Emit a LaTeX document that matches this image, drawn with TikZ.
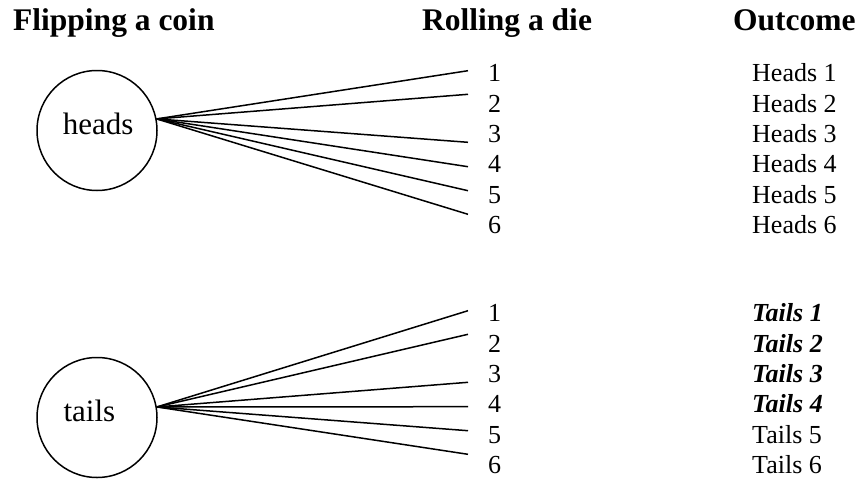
\documentclass[tikz,border=0pt]{standalone}
\usepackage{fontspec}
\setmainfont{Liberation Serif}
\begin{document}
\begin{tikzpicture}[x=1pt,y=-1pt,
  txt/.style={inner sep=0pt, anchor=base west, font=\fontsize{26}{30}\selectfont},
  bitxt/.style={txt, font=\fontsize{26}{30}\selectfont\bfseries\itshape},
  hdr/.style={inner sep=0pt, anchor=base west, font=\fontsize{31.5}{36}\selectfont\bfseries},
  coinlbl/.style={inner sep=0pt, anchor=base west, font=\fontsize{31}{36}\selectfont},
  coin/.style={circle, draw, line width=1.5pt, minimum size=120pt, inner sep=0pt},
  fan/.style={line width=1.5pt}]
\useasboundingbox (0,0) rectangle (859,479);
% headers
\node[hdr] (hd1) at (13,30) {Flipping a coin};
\node[hdr] (hd2) at (422,30) {Rolling a die};
\node[hdr] (hd3) at (733,30) {Outcome};
% coins
\node[coin] (h) at (97,130.5) {};
\node[coinlbl] (hl) at (62.7,134) {heads};
\node[coin] (t) at (97,417.5) {};
\node[coinlbl] (tl) at (63.3,421) {tails};
% fan ends
\foreach \i/\y in {1/70.7,2/94.3,3/142.3,4/166.7,5/190.7,6/214.3}{
  \coordinate (he\i) at (468,\y);
  \draw[fan] (h.11) -- (he\i);
}
\foreach \i/\y in {1/310.7,2/334.3,3/382.3,4/406.7,5/430.7,6/454.3}{
  \coordinate (te\i) at (468,\y);
  \draw[fan] (t.10) -- (te\i);
}
% die values and outcomes
\foreach \i in {1,...,6}{
  \node[txt] (hd\i) at (488,{81.8+30.3*(\i-1)}) {\i};
  \node[txt] (ho\i) at (752,{81.8+30.3*(\i-1)}) {Heads \i};
  \node[txt] (td\i) at (488,{321.8+30.3*(\i-1)}) {\i};
}
\foreach \i in {1,...,4}{
  \node[bitxt] (to\i) at (752,{321.8+30.3*(\i-1)}) {Tails \i};
}
\foreach \i in {5,6}{
  \node[txt] (to\i) at (752,{321.8+30.3*(\i-1)}) {Tails \i};
}
\end{tikzpicture}
\end{document}
